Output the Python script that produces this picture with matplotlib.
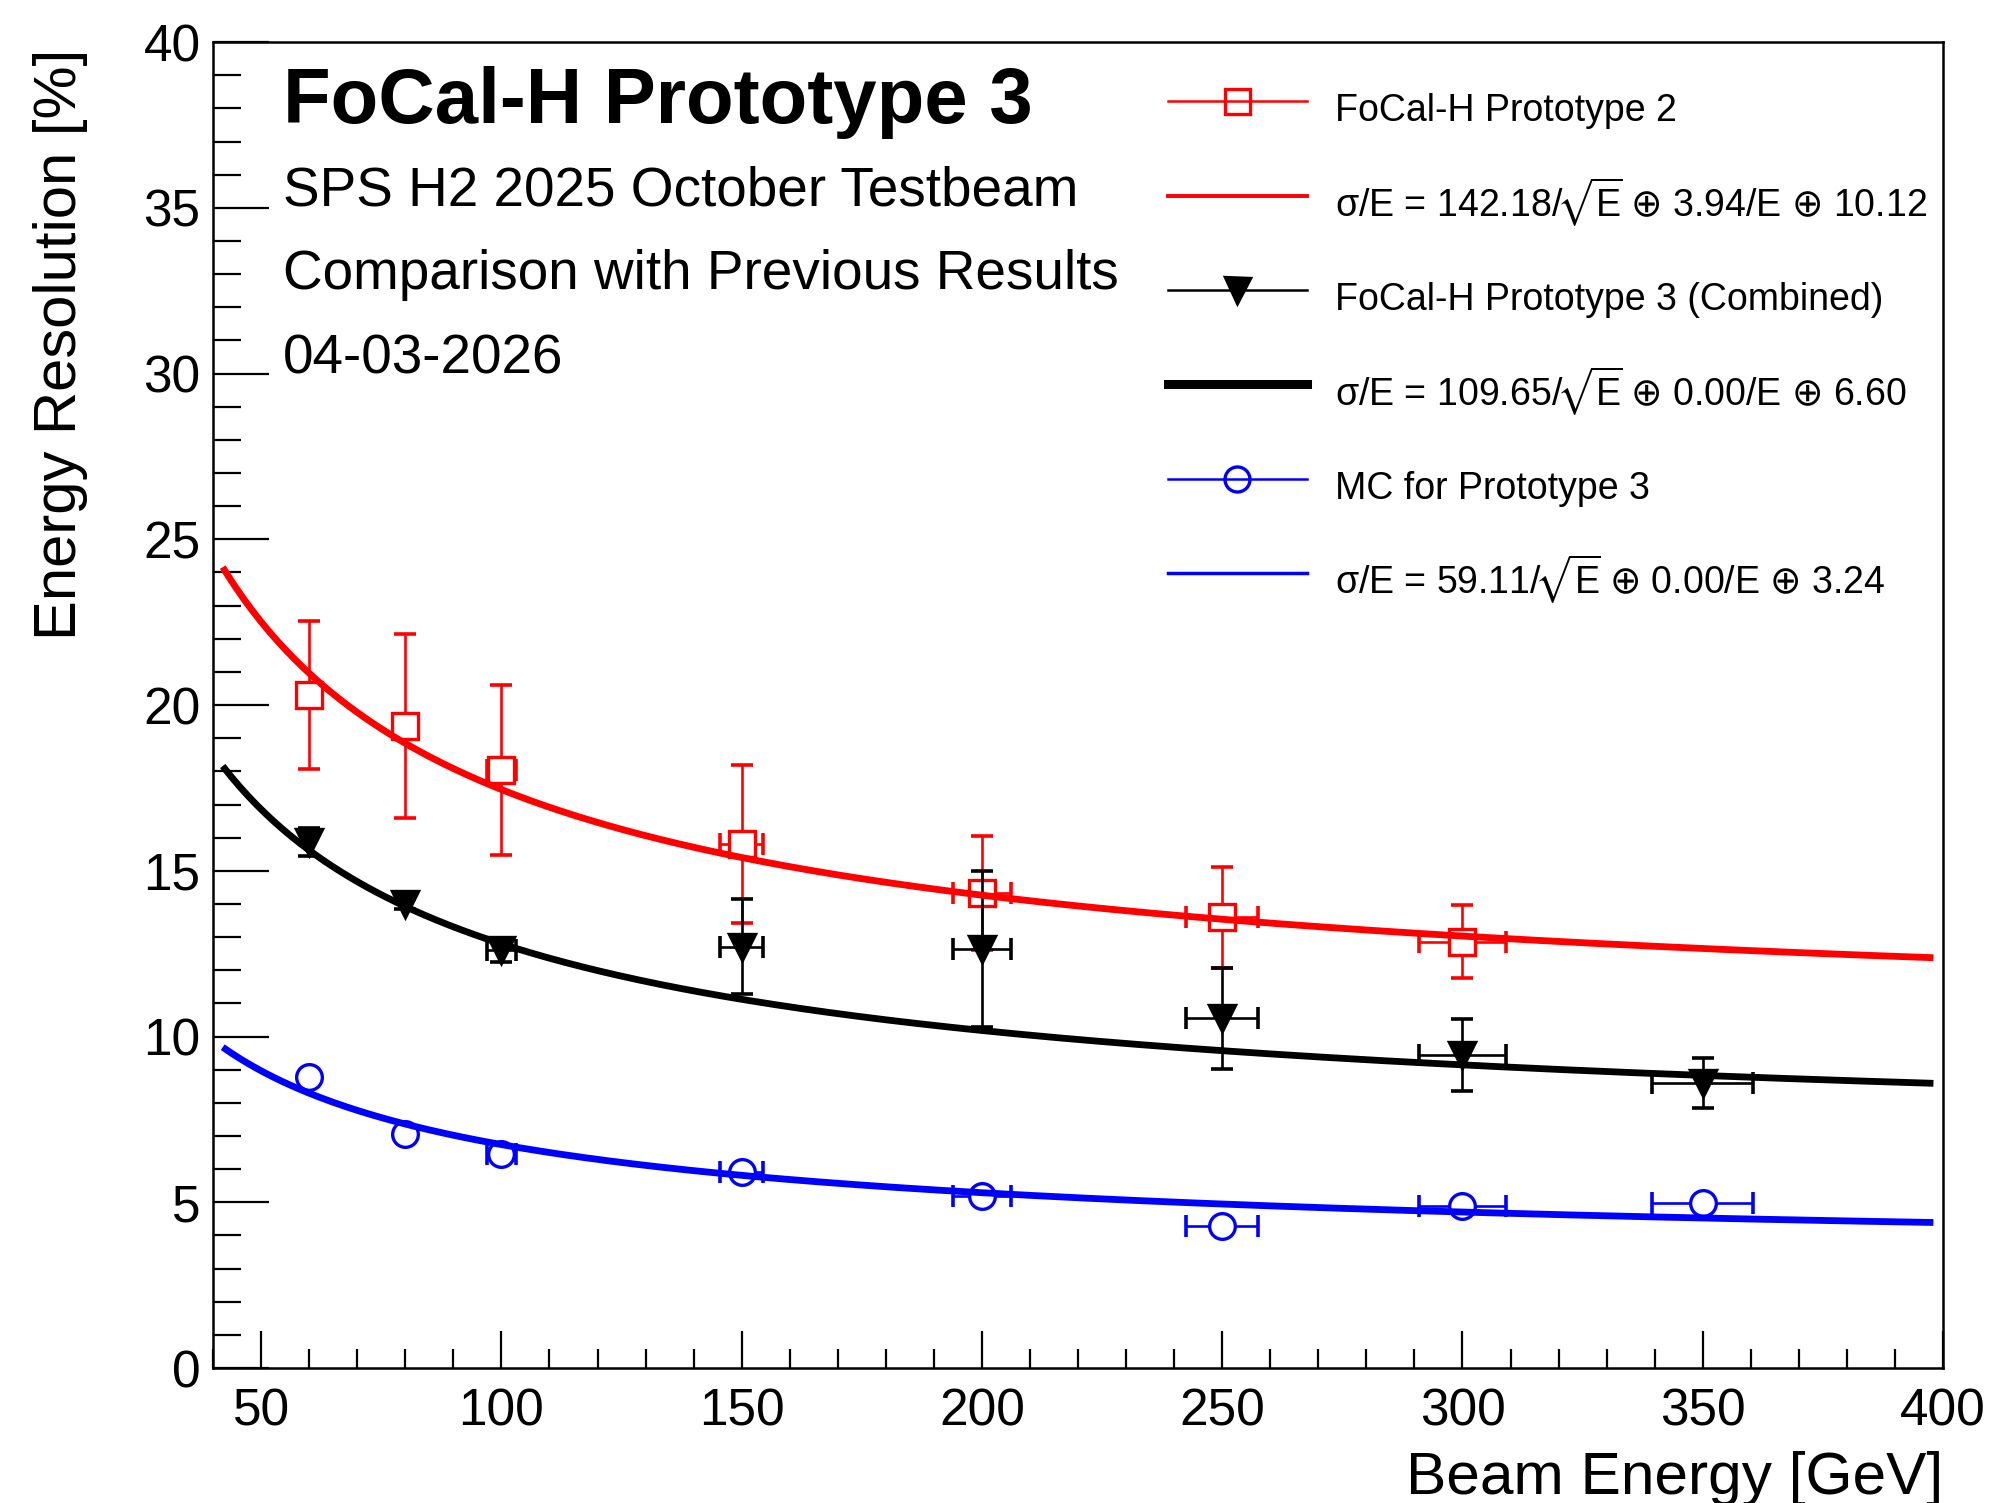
import numpy as np
import matplotlib
matplotlib.use("Agg")
import matplotlib.pyplot as plt
from matplotlib.lines import Line2D
from matplotlib.ticker import MultipleLocator

plt.rcParams['font.family'] = ['Liberation Sans', 'DejaVu Sans']
plt.rcParams['mathtext.fontset'] = 'custom'
plt.rcParams['mathtext.rm'] = 'Liberation Sans'
plt.rcParams['mathtext.it'] = 'Liberation Sans'
plt.rcParams['mathtext.sf'] = 'DejaVu Sans'
plt.rcParams['mathtext.fallback'] = 'stixsans'

# ---- data ----
# FoCal-H Prototype 2
e_p2 = [60, 80, 100, 150, 200, 250, 300]
res_p2 = [20.30, 19.37, 18.04, 15.81, 14.34, 13.60, 12.86]
yerr_p2 = [2.24, 2.77, 2.57, 2.37, 1.72, 1.52, 1.10]
xerr_p2 = [0, 0, 3.0, 4.5, 6.0, 7.5, 9.0]

# FoCal-H Prototype 3 (Combined)
e_p3 = [60, 80, 100, 150, 200, 250, 300, 350]
res_p3 = [15.88, 14.00, 12.60, 12.71, 12.63, 10.55, 9.44, 8.59]
yerr_p3 = [0.42, 0.15, 0.35, 1.44, 2.35, 1.53, 1.08, 0.75]
xerr_p3 = [0, 0, 3.0, 4.5, 6.0, 7.5, 9.0, 10.5]

# MC for Prototype 3
e_mc = [60, 80, 100, 150, 200, 250, 300, 350]
res_mc = [8.77, 7.07, 6.47, 5.90, 5.19, 4.27, 4.89, 4.97]
yerr_mc = [0, 0, 0, 0, 0, 0, 0, 0]
xerr_mc = [0, 0, 3.0, 4.5, 6.0, 7.5, 9.0, 10.5]

# fit parameters: sigma/E = a/sqrt(E) (+) b/E (+) c
fit_a = [142.18, 109.65, 59.11]
fit_b = [3.94, 0.00, 0.00]
fit_c = [10.12, 6.60, 3.24]
fit_emin, fit_emax = 42, 398

series_labels = ["FoCal-H Prototype 2", "FoCal-H Prototype 3 (Combined)", "MC for Prototype 3"]
colors = ["#ff0000", "#000000", "#0000ff"]
markers = ["s", "v", "o"]


def fit_label(a, b, c):
    return (r"σ/E = %.2f/$\!\sqrt{\mathrm{E}\!}$ $\mathsf{\oplus}$ %.2f/E $\mathsf{\oplus}$ %.2f"
            % (a, b, c))


def draw_points(ax, e, res, yerr, xerr, color, marker, z):
    e = np.array(e, float)
    res = np.array(res, float)
    yerr = np.array(yerr, float)
    xerr = np.array(xerr, float)
    ky = yerr > 0
    kx = xerr > 0
    if ky.any():
        ax.errorbar(e[ky], res[ky], yerr=yerr[ky], fmt='none', ecolor=color,
                    elinewidth=1.9, capsize=8, capthick=2.6, zorder=z)
    if kx.any():
        ax.errorbar(e[kx], res[kx], xerr=xerr[kx], fmt='none', ecolor=color,
                    elinewidth=1.9, capsize=8, capthick=2.6, zorder=z)
    mfc = color if marker == 'v' else 'white'
    ax.plot(e, res, linestyle='none', marker=marker, ms=18.5, mfc=mfc,
            mec=color, mew=2.4, zorder=z + 0.05)


fig = plt.figure(figsize=(19.99, 15.03), dpi=100)
ax = fig.add_axes([0.1066, 0.0898, 0.8654, 0.8822])

draw_points(ax, e_p2, res_p2, yerr_p2, xerr_p2, colors[0], markers[0], 3.0)
draw_points(ax, e_p3, res_p3, yerr_p3, xerr_p3, colors[1], markers[1], 3.2)
draw_points(ax, e_mc, res_mc, yerr_mc, xerr_mc, colors[2], markers[2], 3.4)

ee = np.linspace(fit_emin, fit_emax, 400)
for a, b, c, col in zip(fit_a, fit_b, fit_c, colors):
    ax.plot(ee, np.sqrt((a / np.sqrt(ee)) ** 2 + (b / ee) ** 2 + c ** 2),
            color=col, lw=4.9, zorder=4, solid_capstyle='butt')

ax.set_xlim(40, 400)
ax.set_ylim(0, 40)
ax.xaxis.set_major_locator(MultipleLocator(50))
ax.xaxis.set_minor_locator(MultipleLocator(10))
ax.yaxis.set_major_locator(MultipleLocator(5))
ax.yaxis.set_minor_locator(MultipleLocator(1))
ax.tick_params(axis='both', which='both', direction='in', top=False, right=False,
               width=1.6, labelsize=37)
ax.tick_params(axis='y', which='major', length=40, pad=9)
ax.tick_params(axis='y', which='minor', length=20)
ax.tick_params(axis='x', which='major', length=27, pad=14)
ax.tick_params(axis='x', which='minor', length=14)
for s in ax.spines.values():
    s.set_linewidth(1.8)

ax.text(1.0, -0.095, "Beam Energy [GeV]", transform=ax.transAxes,
        ha='right', va='baseline', fontsize=43.5)
ax.text(-0.088, 0.995, "Energy Resolution [%]", transform=ax.transAxes,
        ha='center', va='top', rotation=90, fontsize=43)

ax.text(0.0405, 0.939, "FoCal-H Prototype 3", transform=ax.transAxes,
        fontsize=56.2, fontweight='bold', va='baseline')
sub_lines = ["SPS H2 2025 October Testbeam", "Comparison with Previous Results", "04-03-2026"]
for i, t in enumerate(sub_lines):
    ax.text(0.0405, 0.877 - i * 0.0635, t, transform=ax.transAxes,
            fontsize=39.5, va='baseline')

# legend
handles, labels = [], []
lw_fit_leg = [2.8, 6.5, 2.5]
for i in range(3):
    handles.append(Line2D([], [], color=colors[i], lw=1.8, marker=markers[i], ms=18,
                          mfc=colors[i] if markers[i] == 'v' else 'none',
                          mec=colors[i], mew=2.4))
    labels.append(series_labels[i])
    handles.append(Line2D([], [], color=colors[i], lw=lw_fit_leg[i]))
    labels.append(fit_label(fit_a[i], fit_b[i], fit_c[i]))

ax.legend(handles, labels, loc='upper left', bbox_to_anchor=(0.552, 0.971),
          frameon=False, fontsize=27, handlelength=3.7, handletextpad=0.75,
          handleheight=2.0, labelspacing=0.97, borderpad=0, borderaxespad=0,
          numpoints=1)

fig.savefig("out.png", dpi=100)
